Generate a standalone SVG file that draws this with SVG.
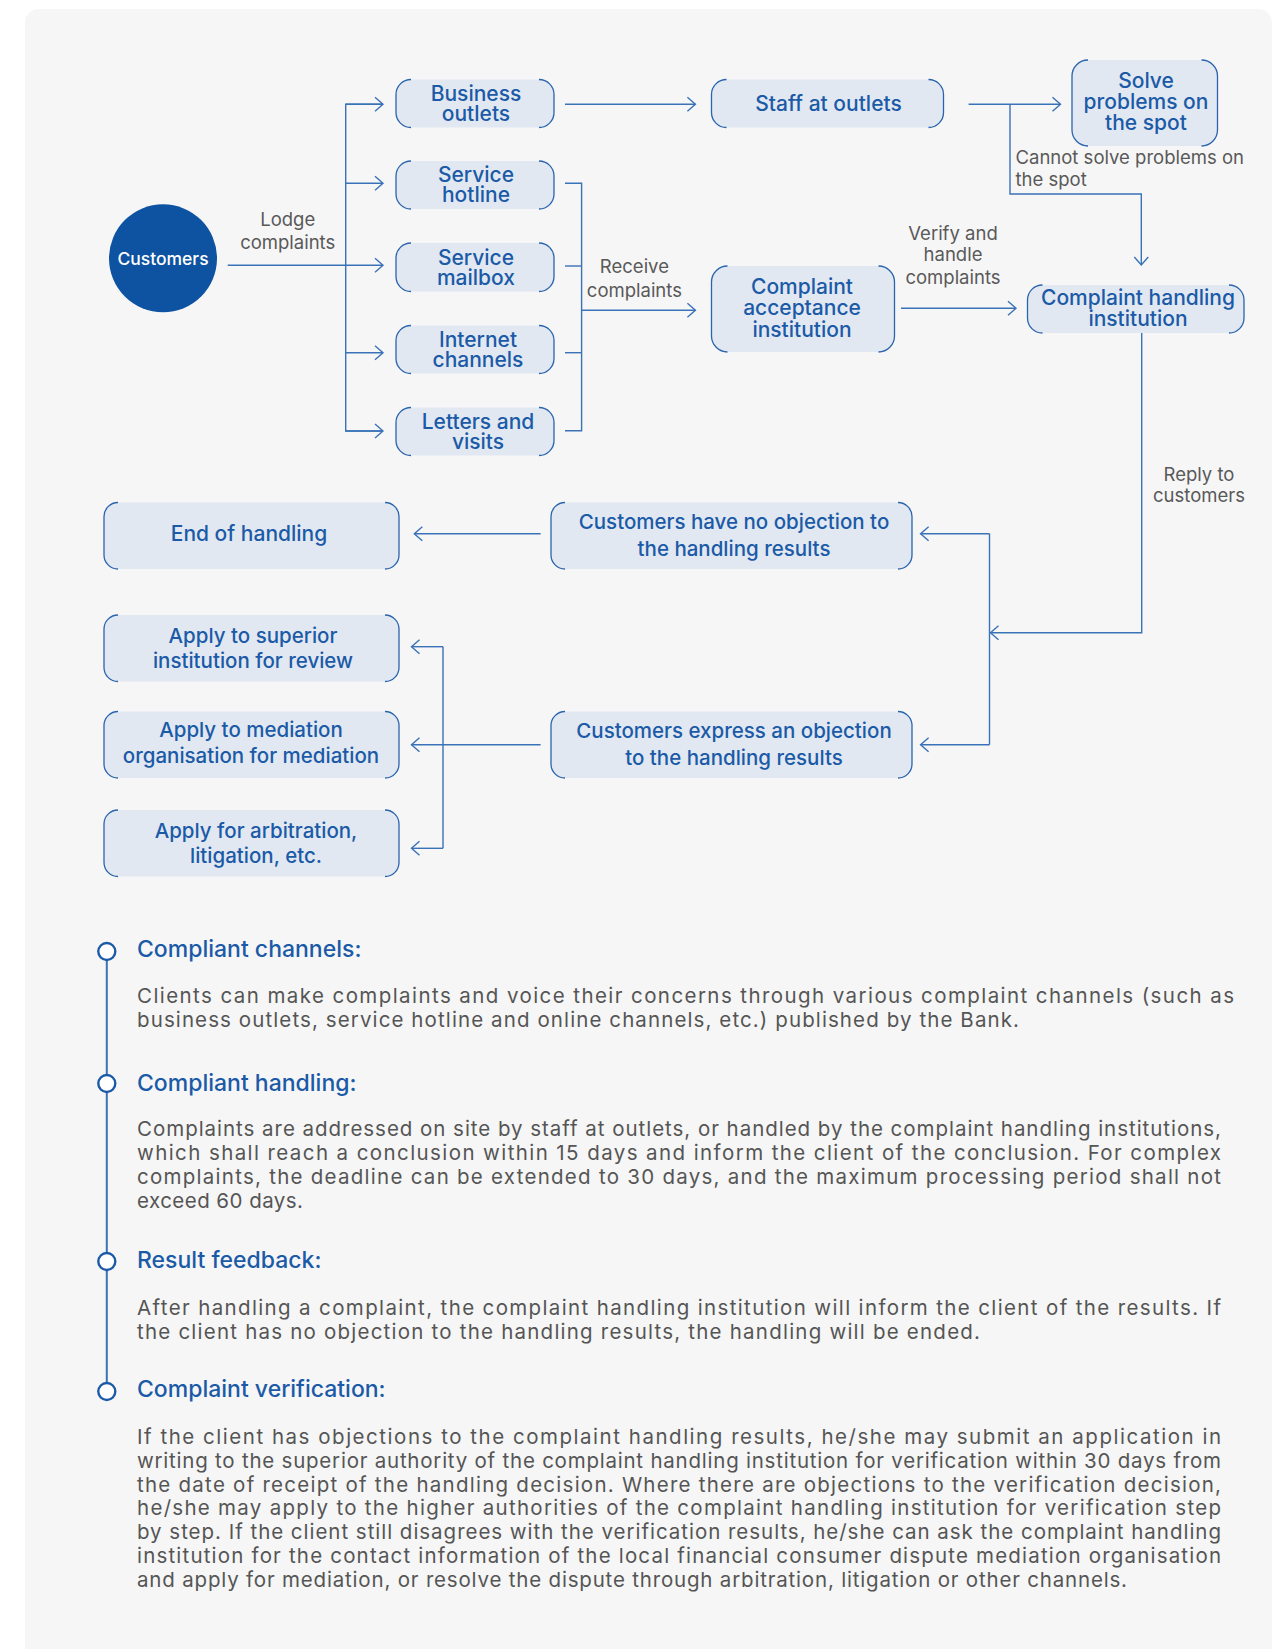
<svg xmlns="http://www.w3.org/2000/svg" width="1287" height="1649" viewBox="0 0 1287 1649">
<defs>
<style>
.lbl{font-family:Inter,"Liberation Sans",sans-serif;font-size:21px;font-weight:500;fill:#1b5aa7;text-anchor:middle}
.note{font-family:Inter,"Liberation Sans",sans-serif;font-size:18.5px;font-weight:400;fill:#595959;text-anchor:middle}
.body{font-family:Inter,"Liberation Sans",sans-serif;font-size:20.5px;font-weight:400;fill:#555555}
.head{font-family:Inter,"Liberation Sans",sans-serif;font-size:23px;font-weight:500;fill:#1b5aa7}
.box{fill:#e1e8f1}
.edge{fill:none;stroke:#2a64ad;stroke-width:1.3}
.con{fill:none;stroke:#3a72b8;stroke-width:1.4}
.arr{fill:none;stroke:#3a72b8;stroke-width:1.4;marker-end:url(#ah)}
</style>
<marker id="ah" viewBox="-10 -9 12 18" markerWidth="12" markerHeight="18" refX="0" refY="0" markerUnits="userSpaceOnUse" orient="auto">
<path d="M-8,-7 L0,0 L-8,7" fill="none" stroke="#3a72b8" stroke-width="1.4"/>
</marker>
</defs>
<rect width="1287" height="1649" fill="#ffffff"/>
<rect x="25" y="9" width="1247" height="1660" rx="14" fill="#f6f6f6"/>

<g id="connectors">
<line class="arr" x1="227.7" y1="265.3" x2="383" y2="265.3"/>
<polyline class="con" points="383,104.3 345.7,104.3 345.7,431 383,431"/>
<line class="arr" x1="345.7" y1="104.3" x2="383" y2="104.3"/>
<line class="arr" x1="345.7" y1="183.3" x2="383" y2="183.3"/>
<line class="arr" x1="345.7" y1="352.7" x2="383" y2="352.7"/>
<line class="arr" x1="345.7" y1="431" x2="383" y2="431"/>
<line class="arr" x1="565" y1="104.3" x2="695.4" y2="104.3"/>
<line class="arr" x1="968.6" y1="104.3" x2="1060.5" y2="104.3"/>
<polyline class="arr" points="1010,104.3 1010,194 1141.3,194 1141.3,265"/>
<polyline class="con" points="565,183.3 581.6,183.3 581.6,430.7 565,430.7"/>
<line class="con" x1="565" y1="266" x2="581.6" y2="266"/>
<line class="con" x1="565" y1="352.7" x2="581.6" y2="352.7"/>
<line class="arr" x1="581.6" y1="310.3" x2="695.4" y2="310.3"/>
<line class="arr" x1="901" y1="308.3" x2="1016" y2="308.3"/>
<polyline class="arr" points="1141.7,333 1141.7,632.7 990.5,632.7"/>
<polyline class="con" points="989.5,533.7 989.5,744.7"/>
<line class="arr" x1="989.5" y1="533.7" x2="920.6" y2="533.7"/>
<line class="arr" x1="989.5" y1="744.7" x2="920.6" y2="744.7"/>
<line class="arr" x1="540.6" y1="533.7" x2="414.3" y2="533.7"/>
<line class="arr" x1="540.6" y1="744.7" x2="411.5" y2="744.7"/>
<polyline class="con" points="443,646.7 443,848.3"/>
<line class="arr" x1="443" y1="646.7" x2="411.5" y2="646.7"/>
<line class="arr" x1="443" y1="848.3" x2="411.5" y2="848.3"/>
<text class="note" x="287.7" y="225.5">Lodge<tspan x="287.7" dy="23">complaints</tspan></text>
<text class="note" x="634.4" y="273">Receive<tspan x="634.4" dy="23.5">complaints</tspan></text>
<text class="note" x="953" y="240">Verify and<tspan x="953" dy="21">handle</tspan><tspan x="953" dy="23">complaints</tspan></text>
<text class="note" x="1015.5" y="163.5" style="text-anchor:start">Cannot solve problems on<tspan x="1015.5" dy="22">the spot</tspan></text>
<text class="note" x="1199" y="481">Reply to<tspan x="1199" dy="21">customers</tspan></text>
</g>

<g id="customers">
<circle cx="163" cy="258.3" r="54" fill="#0d53a1"/>
<text x="163" y="264.5" style="font-family:Inter,'Liberation Sans',sans-serif;font-size:17.5px;font-weight:500;fill:#ffffff;text-anchor:middle">Customers</text>
</g>

<g id="business-outlets">
<rect class="box" x="396" y="79.5" width="158" height="48" rx="15"/>
<path class="edge" d="M411,79.5 A15,15 0 0 0 396,94.5 V112.5 A15,15 0 0 0 411,127.5 M539,79.5 A15,15 0 0 1 554,94.5 V112.5 A15,15 0 0 1 539,127.5"/>
<text class="lbl" x="476" y="100.5">Business<tspan x="476" dy="20">outlets</tspan></text>
</g>

<g id="service-hotline">
<rect class="box" x="396" y="161" width="158" height="48" rx="15"/>
<path class="edge" d="M411,161 A15,15 0 0 0 396,176 V194 A15,15 0 0 0 411,209 M539,161 A15,15 0 0 1 554,176 V194 A15,15 0 0 1 539,209"/>
<text class="lbl" x="476" y="182">Service<tspan x="476" dy="20">hotline</tspan></text>
</g>

<g id="service-mailbox">
<rect class="box" x="396" y="243" width="158" height="48.5" rx="15"/>
<path class="edge" d="M411,243 A15,15 0 0 0 396,258 V276.5 A15,15 0 0 0 411,291.5 M539,243 A15,15 0 0 1 554,258 V276.5 A15,15 0 0 1 539,291.5"/>
<text class="lbl" x="476" y="264.5">Service<tspan x="476" dy="20">mailbox</tspan></text>
</g>

<g id="internet-channels">
<rect class="box" x="396" y="325.5" width="158" height="48" rx="15"/>
<path class="edge" d="M411,325.5 A15,15 0 0 0 396,340.5 V358.5 A15,15 0 0 0 411,373.5 M539,325.5 A15,15 0 0 1 554,340.5 V358.5 A15,15 0 0 1 539,373.5"/>
<text class="lbl" x="478" y="346.5">Internet<tspan x="478" dy="20">channels</tspan></text>
</g>

<g id="letters-visits">
<rect class="box" x="396" y="407.5" width="158" height="48" rx="15"/>
<path class="edge" d="M411,407.5 A15,15 0 0 0 396,422.5 V440.5 A15,15 0 0 0 411,455.5 M539,407.5 A15,15 0 0 1 554,422.5 V440.5 A15,15 0 0 1 539,455.5"/>
<text class="lbl" x="478" y="428.5">Letters and<tspan x="478" dy="20">visits</tspan></text>
</g>

<g id="staff-outlets">
<rect class="box" x="711.5" y="79.5" width="232" height="48" rx="15"/>
<path class="edge" d="M726.5,79.5 A15,15 0 0 0 711.5,94.5 V112.5 A15,15 0 0 0 726.5,127.5 M928.5,79.5 A15,15 0 0 1 943.5,94.5 V112.5 A15,15 0 0 1 928.5,127.5"/>
<text class="lbl" x="828.5" y="111">Staff at outlets</text>
</g>

<g id="solve-spot">
<rect class="box" x="1072" y="60" width="145.5" height="86" rx="16"/>
<path class="edge" d="M1088,60 A16,16 0 0 0 1072,76 V130 A16,16 0 0 0 1088,146 M1201.5,60 A16,16 0 0 1 1217.5,76 V130 A16,16 0 0 1 1201.5,146"/>
<text class="lbl" x="1146" y="87.5">Solve<tspan x="1146" dy="21">problems on</tspan><tspan x="1146" dy="21">the spot</tspan></text>
</g>

<g id="acceptance">
<rect class="box" x="711.5" y="266" width="183" height="86" rx="16"/>
<path class="edge" d="M727.5,266 A16,16 0 0 0 711.5,282 V336 A16,16 0 0 0 727.5,352 M878.5,266 A16,16 0 0 1 894.5,282 V336 A16,16 0 0 1 878.5,352"/>
<text class="lbl" x="802" y="293.5">Complaint<tspan x="802" dy="21.5">acceptance</tspan><tspan x="802" dy="21.5">institution</tspan></text>
</g>

<g id="handling">
<rect class="box" x="1027.5" y="285" width="216.5" height="48" rx="15"/>
<path class="edge" d="M1042.5,285 A15,15 0 0 0 1027.5,300 V318 A15,15 0 0 0 1042.5,333 M1229,285 A15,15 0 0 1 1244,300 V318 A15,15 0 0 1 1229,333"/>
<text class="lbl" x="1138" y="305">Complaint handling<tspan x="1138" dy="21">institution</tspan></text>
</g>

<g id="end-handling">
<rect class="box" x="104" y="502.5" width="295" height="66.5" rx="14"/>
<path class="edge" d="M118,502.5 A14,14 0 0 0 104,516.5 V555 A14,14 0 0 0 118,569 M385,502.5 A14,14 0 0 1 399,516.5 V555 A14,14 0 0 1 385,569"/>
<text class="lbl" x="249" y="541">End of handling</text>
</g>

<g id="no-objection">
<rect class="box" x="551" y="502.5" width="361" height="66.5" rx="14"/>
<path class="edge" d="M565,502.5 A14,14 0 0 0 551,516.5 V555 A14,14 0 0 0 565,569 M898,502.5 A14,14 0 0 1 912,516.5 V555 A14,14 0 0 1 898,569"/>
<text class="lbl" x="734" y="529" style="font-size:20.5px">Customers have no objection to<tspan x="734" dy="26.5">the handling results</tspan></text>
</g>

<g id="superior">
<rect class="box" x="104" y="615" width="295" height="66.5" rx="14"/>
<path class="edge" d="M118,615 A14,14 0 0 0 104,629 V667.5 A14,14 0 0 0 118,681.5 M385,615 A14,14 0 0 1 399,629 V667.5 A14,14 0 0 1 385,681.5"/>
<text class="lbl" x="253" y="642.5" style="font-size:20.5px">Apply to superior<tspan x="253" dy="25">institution for review</tspan></text>
</g>

<g id="mediation">
<rect class="box" x="104" y="711.5" width="295" height="66.5" rx="14"/>
<path class="edge" d="M118,711.5 A14,14 0 0 0 104,725.5 V764 A14,14 0 0 0 118,778 M385,711.5 A14,14 0 0 1 399,725.5 V764 A14,14 0 0 1 385,778"/>
<text class="lbl" x="251" y="737" style="font-size:20.5px">Apply to mediation<tspan x="251" dy="26">organisation for mediation</tspan></text>
</g>

<g id="arbitration">
<rect class="box" x="104" y="810" width="295" height="66.5" rx="14"/>
<path class="edge" d="M118,810 A14,14 0 0 0 104,824 V862.5 A14,14 0 0 0 118,876.5 M385,810 A14,14 0 0 1 399,824 V862.5 A14,14 0 0 1 385,876.5"/>
<text class="lbl" x="256" y="837.5" style="font-size:20.5px">Apply for arbitration,<tspan x="256" dy="25.5">litigation, etc.</tspan></text>
</g>

<g id="objection">
<rect class="box" x="551" y="711.5" width="361" height="66.5" rx="14"/>
<path class="edge" d="M565,711.5 A14,14 0 0 0 551,725.5 V764 A14,14 0 0 0 565,778 M898,711.5 A14,14 0 0 1 912,725.5 V764 A14,14 0 0 1 898,778"/>
<text class="lbl" x="734" y="737.5" style="font-size:20.5px">Customers express an objection<tspan x="734" dy="27">to the handling results</tspan></text>
</g>

<g id="timeline">
<line x1="106.8" y1="951.5" x2="106.8" y2="1391.5" stroke="#3a72b8" stroke-width="2"/>
<circle cx="106.8" cy="951.5" r="8.5" fill="#ffffff" stroke="#1b5aa7" stroke-width="2.4"/>
<circle cx="106.8" cy="1083.5" r="8.5" fill="#ffffff" stroke="#1b5aa7" stroke-width="2.4"/>
<circle cx="106.8" cy="1261.5" r="8.5" fill="#ffffff" stroke="#1b5aa7" stroke-width="2.4"/>
<circle cx="106.8" cy="1391.5" r="8.5" fill="#ffffff" stroke="#1b5aa7" stroke-width="2.4"/>
</g>

<g id="text-channels">
<text class="head" x="137" y="956.7">Compliant channels:</text>
<text class="body" x="137" y="1003.3" textLength="1097" lengthAdjust="spacing">Clients can make complaints and voice their concerns through various complaint channels (such as</text>
<text class="body" x="137" y="1027.3" textLength="882" lengthAdjust="spacing">business outlets, service hotline and online channels, etc.) published by the Bank.</text>
</g>

<g id="text-handling">
<text class="head" x="137" y="1091">Compliant handling:</text>
<text class="body" x="137" y="1136" textLength="1084" lengthAdjust="spacing">Complaints are addressed on site by staff at outlets, or handled by the complaint handling institutions,</text>
<text class="body" x="137" y="1160" textLength="1084" lengthAdjust="spacing">which shall reach a conclusion within 15 days and inform the client of the conclusion. For complex</text>
<text class="body" x="137" y="1184" textLength="1084" lengthAdjust="spacing">complaints, the deadline can be extended to 30 days, and the maximum processing period shall not</text>
<text class="body" x="137" y="1207.5" textLength="166" lengthAdjust="spacing">exceed 60 days.</text>
</g>

<g id="text-feedback">
<text class="head" x="137" y="1268">Result feedback:</text>
<text class="body" x="137" y="1315.3" textLength="1084" lengthAdjust="spacing">After handling a complaint, the complaint handling institution will inform the client of the results. If</text>
<text class="body" x="137" y="1339" textLength="843" lengthAdjust="spacing">the client has no objection to the handling results, the handling will be ended.</text>
</g>

<g id="text-verification">
<text class="head" x="137" y="1396.5">Complaint verification:</text>
<text class="body" x="137" y="1444" textLength="1084" lengthAdjust="spacing">If the client has objections to the complaint handling results, he/she may submit an application in</text>
<text class="body" x="137" y="1467.8" textLength="1084" lengthAdjust="spacing">writing to the superior authority of the complaint handling institution for verification within 30 days from</text>
<text class="body" x="137" y="1491.6" textLength="1084" lengthAdjust="spacing">the date of receipt of the handling decision. Where there are objections to the verification decision,</text>
<text class="body" x="137" y="1515.4" textLength="1084" lengthAdjust="spacing">he/she may apply to the higher authorities of the complaint handling institution for verification step</text>
<text class="body" x="137" y="1539.2" textLength="1084" lengthAdjust="spacing">by step. If the client still disagrees with the verification results, he/she can ask the complaint handling</text>
<text class="body" x="137" y="1563" textLength="1084" lengthAdjust="spacing">institution for the contact information of the local financial consumer dispute mediation organisation</text>
<text class="body" x="137" y="1586.8" textLength="990" lengthAdjust="spacing">and apply for mediation, or resolve the dispute through arbitration, litigation or other channels.</text>
</g>
</svg>
